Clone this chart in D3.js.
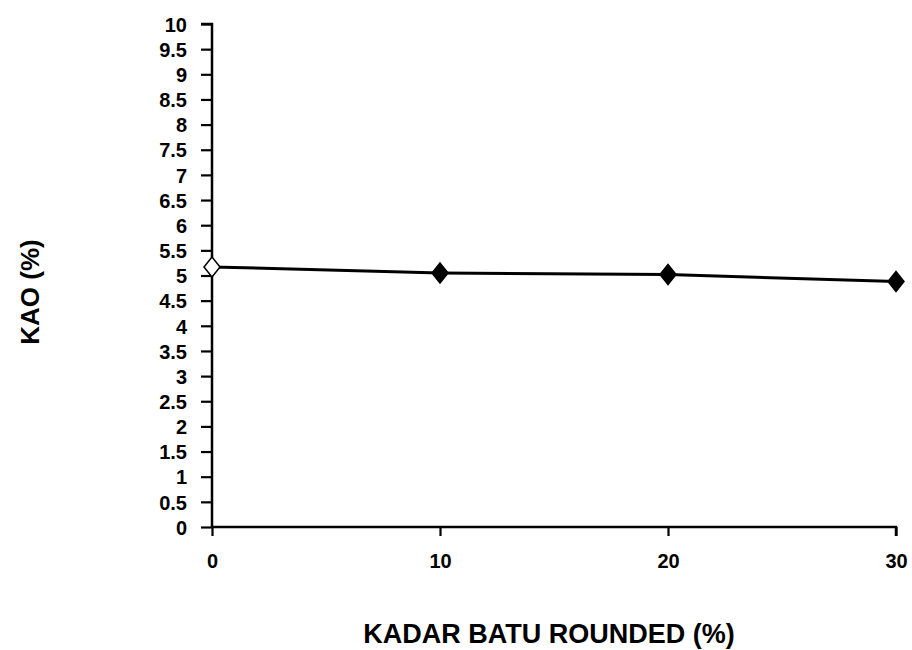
<!DOCTYPE html>
<html>
<head>
<meta charset="utf-8">
<script src="https://cdn.jsdelivr.net/npm/d3@7"></script>
<style>
  body { margin: 0; background: #fff; }
  text { font-family: "Liberation Sans", Arial, sans-serif; fill: #000; }
</style>
</head>
<body>
<div class="chart"></div>
<script>
const kadarBatu = [0, 10, 20, 30]
const kao = [5.17, 5.05, 5.02, 4.88]
const yTicks = d3.range(0, 10.01, 0.5)
const xTicks = [0, 10, 20, 30]

const width = 912, height = 650
const margin = { top: 24, left: 212, right: 16, bottom: 123 }

const svg = d3.select('.chart')
    .append('svg')
    .attr('width', width)
    .attr('height', height)

const x = d3.scaleLinear()
    .domain([0, 30])
    .range([margin.left, 896])

const y = d3.scaleLinear()
    .domain([0, 10])
    .range([height - margin.bottom, margin.top])

// y axis
const yAxis = svg.append('g')
    .attr('transform', `translate(${margin.left},0)`)
    .call(d3.axisLeft(y).tickValues(yTicks).tickSize(11).tickPadding(14)
        .tickFormat(d => d3.format('~g')(d)))
yAxis.select('.domain').attr('d', `M-11,${y(10)}H0V${y(0)}`).attr('stroke-width', 2.5)
yAxis.selectAll('.tick line').attr('stroke-width', 2.2)
yAxis.selectAll('text').attr('font-size', 20).attr('font-weight', 'bold').attr('dy', '0.36em')

// x axis
const xAxis = svg.append('g')
    .attr('transform', `translate(0,${y(0)})`)
    .call(d3.axisBottom(x).tickValues(xTicks).tickSize(9).tickPadding(18))
xAxis.select('.domain').attr('d', `M${x(0)},0H${x(30)}V9`).attr('stroke-width', 2.5)
xAxis.selectAll('.tick line').attr('stroke-width', 2.2)
xAxis.selectAll('text').attr('font-size', 20).attr('font-weight', 'bold')

// line
const line = d3.line()
    .x((d, i) => x(kadarBatu[i]))
    .y(d => y(d))

svg.append('path')
    .datum(kao)
    .attr('d', line)
    .attr('fill', 'none')
    .attr('stroke', '#000')
    .attr('stroke-width', 3)

// markers
const diamond = 'M0,-10L8,0L0,10L-8,0Z'
svg.selectAll('.pt')
    .data(kao)
    .enter()
    .append('path')
    .attr('class', 'pt')
    .attr('d', diamond)
    .attr('transform', (d, i) => `translate(${x(kadarBatu[i])},${y(d)})`)
    .attr('fill', (d, i) => i === 0 ? '#fff' : '#000')
    .attr('stroke', '#000')
    .attr('stroke-width', 1.5)

// titles
svg.append('text')
    .attr('x', 549)
    .attr('y', 643)
    .attr('text-anchor', 'middle')
    .attr('font-size', 27)
    .attr('font-weight', 'bold')
    .text('KADAR BATU ROUNDED (%)')

svg.append('text')
    .attr('transform', 'translate(39,292) rotate(-90)')
    .attr('text-anchor', 'middle')
    .attr('font-size', 26)
    .attr('font-weight', 'bold')
    .text('KAO (%)')
</script>
</body>
</html>
